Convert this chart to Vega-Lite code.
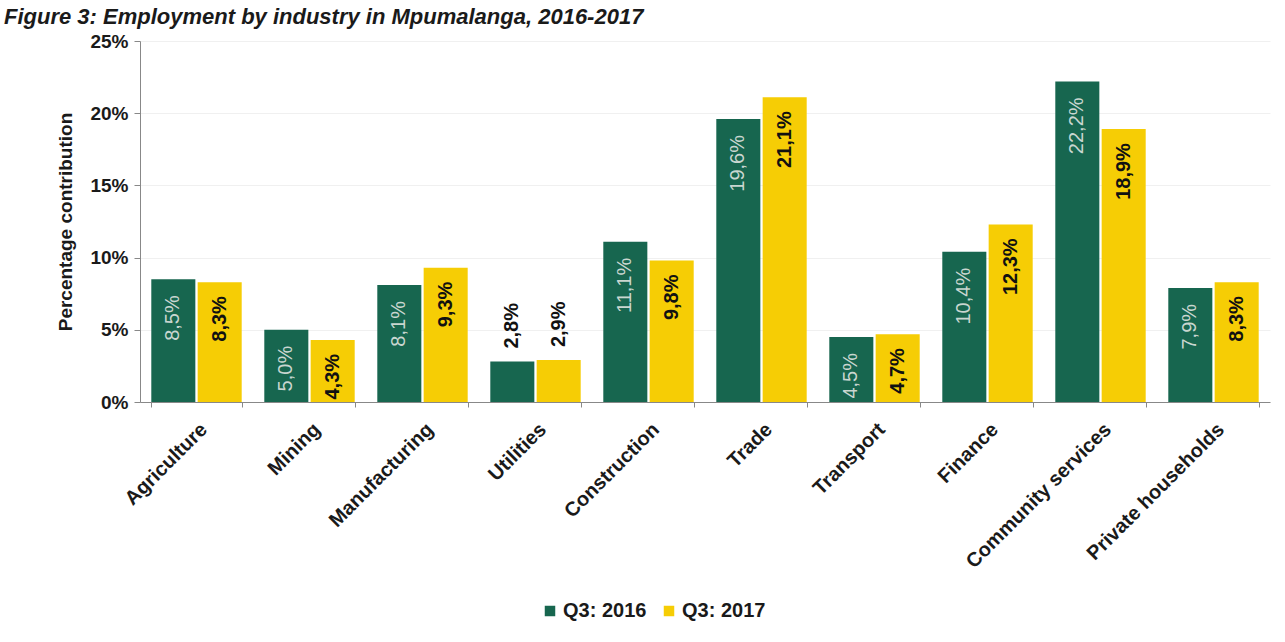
{
  "$schema": "https://vega.github.io/schema/vega-lite/v6.json",
  "width": 1130,
  "height": 361,
  "autosize": {"type": "none"},
  "padding": {"left": 140, "top": 41, "right": 15, "bottom": 240},
  "background": "white",
  "title": {
    "text": "Figure 3: Employment by industry in Mpumalanga, 2016-2017",
    "anchor": "start",
    "frame": "group",
    "dx": -136,
    "offset": 3,
    "font": "Liberation Sans",
    "fontSize": 22,
    "fontWeight": "bold",
    "fontStyle": "italic",
    "color": "#1a1a1a"
  },
  "config": {
    "locale": {"number": {"decimal": ",", "thousands": ".", "grouping": [3], "currency": ["", ""]}},
    "view": {"stroke": null},
    "font": "Liberation Sans"
  },
  "data": {
    "values": [
      {"industry": "Agriculture", "period": "Q3: 2016", "value": 0.085},
      {"industry": "Agriculture", "period": "Q3: 2017", "value": 0.083},
      {"industry": "Mining", "period": "Q3: 2016", "value": 0.050},
      {"industry": "Mining", "period": "Q3: 2017", "value": 0.043},
      {"industry": "Manufacturing", "period": "Q3: 2016", "value": 0.081},
      {"industry": "Manufacturing", "period": "Q3: 2017", "value": 0.093},
      {"industry": "Utilities", "period": "Q3: 2016", "value": 0.028},
      {"industry": "Utilities", "period": "Q3: 2017", "value": 0.029},
      {"industry": "Construction", "period": "Q3: 2016", "value": 0.111},
      {"industry": "Construction", "period": "Q3: 2017", "value": 0.098},
      {"industry": "Trade", "period": "Q3: 2016", "value": 0.196},
      {"industry": "Trade", "period": "Q3: 2017", "value": 0.211},
      {"industry": "Transport", "period": "Q3: 2016", "value": 0.045},
      {"industry": "Transport", "period": "Q3: 2017", "value": 0.047},
      {"industry": "Finance", "period": "Q3: 2016", "value": 0.104},
      {"industry": "Finance", "period": "Q3: 2017", "value": 0.123},
      {"industry": "Community services", "period": "Q3: 2016", "value": 0.222},
      {"industry": "Community services", "period": "Q3: 2017", "value": 0.189},
      {"industry": "Private households", "period": "Q3: 2016", "value": 0.079},
      {"industry": "Private households", "period": "Q3: 2017", "value": 0.083}
    ]
  },
  "encoding": {
    "x": {
      "field": "industry", "type": "nominal", "sort": null,
      "scale": {"paddingInner": 0.2, "paddingOuter": 0.1},
      "axis": {
        "title": null, "labelAngle": -45, "labelFontSize": 20, "labelFontWeight": "bold",
        "labelColor": "#1a1a1a", "tickBand": "extent", "tickColor": "#888", "domainColor": "#888",
        "labelPadding": 12, "tickSize": 5, "labelLimit": 300
      }
    },
    "xOffset": {"field": "period", "type": "nominal", "scale": {"paddingInner": 0.05}},
    "y": {
      "field": "value", "type": "quantitative",
      "scale": {"domain": [0, 0.25]},
      "axis": {
        "format": ".0%", "values": [0, 0.05, 0.1, 0.15, 0.2, 0.25], "labelOverlap": false,
        "title": "Percentage contribution", "titleFontSize": 19, "titleFontWeight": "bold",
        "titleColor": "#1a1a1a", "titlePadding": 14,
        "labelFontSize": 19, "labelFontWeight": "bold", "labelColor": "#1a1a1a", "labelPadding": 6,
        "gridColor": "#f0f0f0", "domainColor": "#888", "tickColor": "#888", "tickSize": 6
      }
    }
  },
  "layer": [
    {
      "mark": {"type": "bar"},
      "encoding": {
        "color": {
          "field": "period", "type": "nominal",
          "scale": {"range": ["#17664f", "#f6cd05"]},
          "legend": {
            "orient": "none", "legendX": 400, "legendY": 560, "direction": "horizontal",
            "title": null, "symbolType": "square", "symbolSize": 110, "symbolStrokeWidth": 0,
            "labelFontSize": 20, "labelFontWeight": "bold", "labelColor": "#1a1a1a",
            "columnPadding": 12, "labelOffset": 3
          }
        }
      }
    },
    {
      "transform": [{"filter": "datum.period == 'Q3: 2016' && datum.value >= 0.04"}],
      "mark": {"type": "text", "angle": 270, "align": "right", "baseline": "middle", "dx": -16, "fontSize": 20, "fontWeight": "normal", "color": "#c9d6d0"},
      "encoding": {"text": {"field": "value", "type": "quantitative", "format": ".1%"}}
    },
    {
      "transform": [{"filter": "datum.period == 'Q3: 2017' && datum.value >= 0.04"}],
      "mark": {"type": "text", "angle": 270, "align": "right", "baseline": "middle", "dx": -14, "fontSize": 20, "fontWeight": "bold", "color": "#111"},
      "encoding": {"text": {"field": "value", "type": "quantitative", "format": ".1%"}}
    },
    {
      "transform": [{"filter": "datum.value < 0.04"}],
      "mark": {"type": "text", "angle": 270, "align": "left", "baseline": "middle", "dx": 13, "fontSize": 20, "fontWeight": "bold", "color": "#111"},
      "encoding": {"text": {"field": "value", "type": "quantitative", "format": ".1%"}}
    }
  ]
}
